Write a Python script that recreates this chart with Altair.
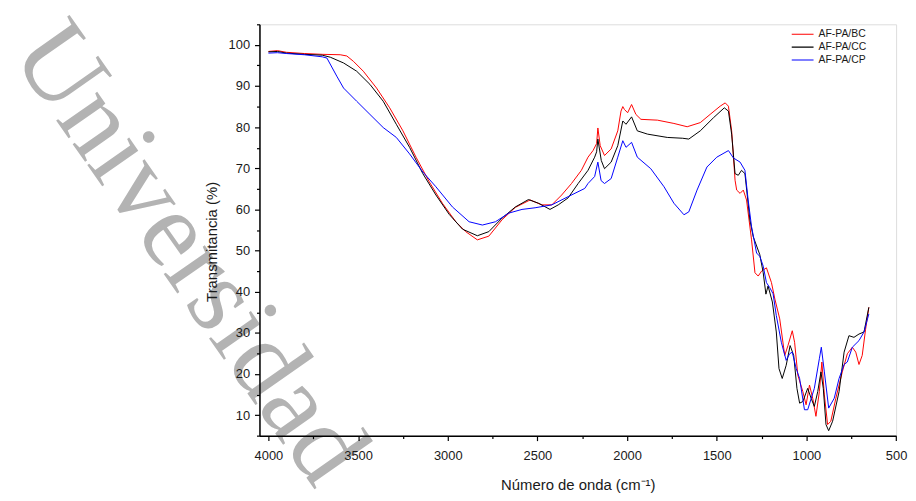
import altair as alt
import pandas as pd

# ---- data ----
bc_x = [4000, 3950, 3900, 3800, 3700, 3600, 3563, 3526, 3471, 3397, 3324, 3250, 3177, 3103, 3030,
        2955, 2900, 2835, 2771, 2697, 2623, 2541, 2475, 2420, 2365, 2310, 2255, 2218, 2190, 2170,
        2163, 2150, 2126, 2089, 2052, 2034, 2024, 2015, 1997, 1975, 1951, 1923, 1831, 1739, 1665,
        1592, 1537, 1481, 1453, 1435, 1417, 1398, 1389, 1370, 1352, 1334, 1306, 1287, 1269, 1250,
        1223, 1195, 1176, 1149, 1121, 1103, 1079, 1066, 1048, 1020, 1002, 983, 965, 947, 928,
        914, 900, 882, 864, 836, 800, 772, 744, 725, 707, 689, 670, 652]
bc_y = [98.4, 98.6, 98.2, 97.9, 97.7, 97.6, 97.3, 96.0, 93.6, 89.5, 84.7, 79.1, 72.7, 66.7, 61.5,
        57.0, 54.6, 52.6, 53.5, 57.5, 60.5, 62.3, 61.1, 61.1, 63.5, 66.3, 69.5, 72.7, 74.3, 76.0,
        79.8, 75.5, 73.1, 74.7, 79.1, 83.9, 85.0, 84.3, 83.5, 85.5, 83.1, 81.9, 81.7, 80.9, 80.1,
        81.1, 83.1, 85.1, 85.9, 85.1, 79.1, 67.1, 64.7, 63.9, 64.7, 62.3, 52.6, 44.6, 43.8, 45.0,
        45.8, 42.2, 38.2, 33.4, 24.5, 26.9, 30.5, 27.7, 19.7, 15.7, 12.5, 17.3, 14.1, 9.7, 15.7,
        22.9, 14.9, 7.7, 8.5, 14.1, 20.5, 24.9, 26.5, 25.3, 22.3, 24.5, 30.9, 36.2]

cc_x = [4000, 3950, 3900, 3800, 3700, 3655, 3581, 3508, 3434, 3360, 3287, 3213, 3139, 3066, 2992,
        2918, 2835, 2771, 2697, 2623, 2550, 2494, 2430, 2384, 2329, 2273, 2218, 2181, 2170, 2163,
        2144, 2126, 2089, 2052, 2024, 2006, 1975, 1943, 1886, 1776, 1690, 1656, 1592, 1518, 1458,
        1435, 1417, 1398, 1380, 1362, 1343, 1315, 1297, 1260, 1241, 1226, 1214, 1190, 1168, 1153,
        1135, 1113, 1091, 1071, 1053, 1038, 1020, 993, 974, 956, 937, 919, 906, 891, 876,
        854, 818, 790, 763, 735, 707, 679, 652]
cc_y = [98.3, 98.4, 98.0, 97.7, 97.5, 97.0, 95.6, 93.6, 90.4, 86.3, 80.7, 75.1, 68.7, 63.5, 58.8,
        55.2, 53.6, 54.6, 57.9, 60.6, 62.4, 61.5, 60.0, 61.1, 62.8, 66.3, 69.5, 72.7, 74.0, 77.1,
        71.9, 69.9, 71.5, 75.5, 81.5, 80.7, 82.5, 79.1, 78.3, 77.5, 77.3, 77.1, 79.1, 82.3, 84.7,
        83.9, 78.3, 68.7, 68.3, 69.5, 68.7, 57.4, 53.4, 49.0, 44.6, 39.4, 41.4, 37.5, 30.2, 21.3,
        18.9, 22.1, 26.9, 24.5, 16.5, 12.9, 13.3, 16.5, 14.1, 12.1, 15.7, 20.5, 16.5, 7.7, 6.2,
        8.5, 15.7, 25.3, 29.3, 28.9, 29.7, 30.2, 36.2]

cp_x = [4000, 3950, 3900, 3800, 3700, 3674, 3619, 3581, 3508, 3434, 3360, 3287, 3213, 3139, 3066,
        2974, 2881, 2807, 2734, 2660, 2586, 2513, 2420, 2329, 2236, 2218, 2181, 2163, 2145, 2126,
        2089, 2052, 2024, 2006, 1975, 1943, 1868, 1794, 1739, 1683, 1656, 1610, 1555, 1500, 1435,
        1407, 1370, 1343, 1325, 1306, 1278, 1260, 1241, 1223, 1205, 1186, 1168, 1140, 1113, 1094,
        1079, 1057, 1038, 1011, 993, 956, 928, 917, 900, 876, 845, 818, 790, 772, 744,
        707, 679, 652]
cp_y = [98.0, 98.1, 97.9, 97.6, 97.1, 96.8, 92.4, 89.5, 86.3, 83.1, 79.9, 77.5, 73.5, 69.1, 65.5,
        60.6, 57.0, 56.2, 57.0, 59.1, 60.0, 60.4, 61.1, 63.1, 65.1, 66.3, 68.0, 71.5, 67.0, 66.3,
        67.5, 72.7, 76.7, 75.1, 76.3, 72.7, 69.9, 65.5, 61.5, 58.7, 59.4, 64.7, 70.3, 72.7, 74.3,
        72.5, 71.5, 69.5, 62.3, 55.8, 49.4, 48.6, 46.2, 42.2, 41.0, 39.5, 34.2, 27.7, 23.3, 24.9,
        25.3, 21.3, 18.9, 11.3, 11.3, 16.5, 23.7, 26.5, 20.5, 11.7, 14.1, 18.9, 22.3, 22.9, 26.5,
        28.1, 30.2, 34.6]

series_names = ["AF-PA/BC", "AF-PA/CC", "AF-PA/CP"]
series_colors = ["#ff0000", "#000000", "#0000ff"]
x_ticks = list(range(4000, 499, -250))
y_ticks = list(range(5, 106, 5))
watermark_text = "Universidad"

frames = []
for name, xs, ys in zip(series_names, [bc_x, cc_x, cp_x], [bc_y, cc_y, cp_y]):
    frames.append(pd.DataFrame({"wn": xs, "T": ys, "serie": name, "order": range(len(xs))}))
df = pd.concat(frames, ignore_index=True)

FONT = "Liberation Sans"

x_axis = alt.Axis(
    values=x_ticks, format="d",
    labelExpr="datum.value % 500 === 0 ? datum.label : ''",
    tickSize={"condition": {"test": "datum.value % 500 === 0", "value": 5}, "value": 3},
    labelOverlap=False, labelFlush=False, grid=False,
    domainColor="#000000", domainWidth=1.5, tickColor="#000000", tickWidth=1.2,
    labelFont=FONT, labelFontSize=13, labelColor="#1a1a1a", labelPadding=9,
    title="Número de onda (cm⁻¹)", titleFont=FONT, titleFontSize=15,
    titleFontWeight="normal", titleColor="#1a1a1a", titleBaseline="middle", titleY=49,
    zindex=1,
)
y_axis = alt.Axis(
    values=y_ticks, format="d",
    labelExpr="datum.value % 10 === 0 ? datum.label : ''",
    tickSize={"condition": {"test": "datum.value % 10 === 0", "value": 5}, "value": 3},
    labelOverlap=False, labelFlush=False, grid=False,
    domainColor="#000000", domainWidth=1.5, tickColor="#000000", tickWidth=1.2,
    labelFont=FONT, labelFontSize=13, labelColor="#1a1a1a", labelPadding=5,
    title="Transmitancia (%)", titleFont=FONT, titleFontSize=15,
    titleFontWeight="normal", titleColor="#1a1a1a", titleBaseline="middle",
    titleX=-48, titleY=219,
    zindex=1,
)

lines = alt.Chart(df).mark_line(strokeWidth=1, clip=True).encode(
    x=alt.X("wn:Q", scale=alt.Scale(domain=[500, 4050], reverse=True, nice=False, zero=False), axis=x_axis),
    y=alt.Y("T:Q", scale=alt.Scale(domain=[5, 105], nice=False, zero=False), axis=y_axis),
    color=alt.Color("serie:N",
                    scale=alt.Scale(domain=series_names, range=series_colors),
                    legend=alt.Legend(orient="none", legendX=536, legendY=4, title=None,
                                      symbolType="stroke", symbolSize=484, symbolStrokeWidth=1.2,
                                      labelFont=FONT, labelFontSize=10.5, labelColor="#1a1a1a",
                                      clipHeight=12, rowPadding=1, labelOffset=4)),
    order="order:Q",
)

watermark = alt.Chart(pd.DataFrame({"t": [watermark_text]})).mark_text(
    angle=55, align="left", baseline="alphabetic", fontSize=110,
    font="Liberation Serif", color="#b3b3b3",
).encode(x=alt.value(-252), y=alt.value(30), text="t:N")

chart = alt.layer(watermark, lines).properties(
    width=642.3, height=415,
    padding={"left": 253.7, "top": 14.3, "right": 12, "bottom": 56},
    autosize=alt.AutoSizeParams(type="none"),
).configure_view(stroke=None).configure(background="white")

chart.save("out.html", embed_options={"renderer": "svg", "actions": False})
